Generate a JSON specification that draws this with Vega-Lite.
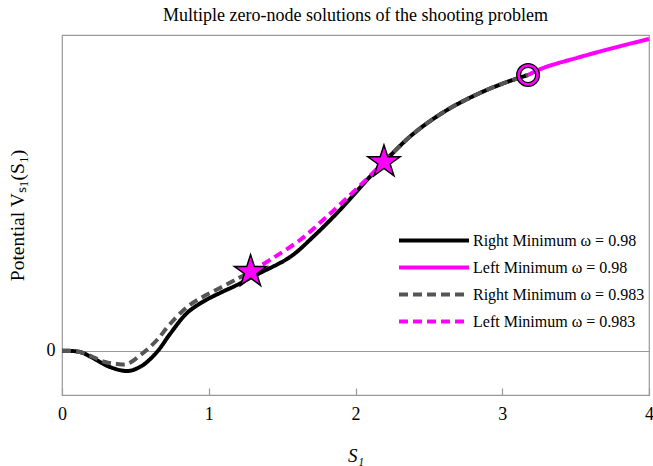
{
  "$schema": "https://vega.github.io/schema/vega-lite/v6.json",
  "width": 587,
  "height": 360,
  "autosize": {"type": "none"},
  "padding": {"left": 62, "top": 35, "right": 4, "bottom": 71},
  "config": {
    "view": {"stroke": "#999999", "strokeWidth": 1.2}
  },
  "title": {
    "text": "Multiple zero-node solutions of the shooting problem",
    "font": "Liberation Serif",
    "fontSize": 18,
    "fontWeight": "normal",
    "color": "#000000",
    "offset": 6
  },
  "layer": [
    {
      "data": {"values": [
        {"s": 0, "v": 0, "series": "Right Minimum ω = 0.98", "seg": "a"},
        {"s": 0.123, "v": -0.013, "series": "Right Minimum ω = 0.98", "seg": "a"},
        {"s": 0.211, "v": -0.073, "series": "Right Minimum ω = 0.98", "seg": "a"},
        {"s": 0.327, "v": -0.163, "series": "Right Minimum ω = 0.98", "seg": "a"},
        {"s": 0.45, "v": -0.203, "series": "Right Minimum ω = 0.98", "seg": "a"},
        {"s": 0.54, "v": -0.155, "series": "Right Minimum ω = 0.98", "seg": "a"},
        {"s": 0.6, "v": -0.085, "series": "Right Minimum ω = 0.98", "seg": "a"},
        {"s": 0.66, "v": 0.01, "series": "Right Minimum ω = 0.98", "seg": "a"},
        {"s": 0.736, "v": 0.167, "series": "Right Minimum ω = 0.98", "seg": "a"},
        {"s": 0.852, "v": 0.377, "series": "Right Minimum ω = 0.98", "seg": "a"},
        {"s": 0.961, "v": 0.49, "series": "Right Minimum ω = 0.98", "seg": "a"},
        {"s": 1.076, "v": 0.577, "series": "Right Minimum ω = 0.98", "seg": "a"},
        {"s": 1.192, "v": 0.657, "series": "Right Minimum ω = 0.98", "seg": "a"},
        {"s": 1.281, "v": 0.727, "series": "Right Minimum ω = 0.98", "seg": "a"},
        {"s": 1.349, "v": 0.777, "series": "Right Minimum ω = 0.98", "seg": "a"},
        {"s": 1.554, "v": 0.937, "series": "Right Minimum ω = 0.98", "seg": "a"},
        {"s": 1.71, "v": 1.137, "series": "Right Minimum ω = 0.98", "seg": "a"},
        {"s": 1.894, "v": 1.407, "series": "Right Minimum ω = 0.98", "seg": "a"},
        {"s": 2.078, "v": 1.707, "series": "Right Minimum ω = 0.98", "seg": "a"},
        {"s": 2.194, "v": 1.887, "series": "Right Minimum ω = 0.98", "seg": "a"},
        {"s": 2.392, "v": 2.167, "series": "Right Minimum ω = 0.98", "seg": "a"},
        {"s": 2.624, "v": 2.407, "series": "Right Minimum ω = 0.98", "seg": "a"},
        {"s": 2.848, "v": 2.577, "series": "Right Minimum ω = 0.98", "seg": "a"},
        {"s": 3.032, "v": 2.687, "series": "Right Minimum ω = 0.98", "seg": "a"},
        {"s": 3.176, "v": 2.757, "series": "Right Minimum ω = 0.98", "seg": "a"},
        {"s": 3.176, "v": 2.757, "series": "Left Minimum ω = 0.98", "seg": "b"},
        {"s": 3.278, "v": 2.827, "series": "Left Minimum ω = 0.98", "seg": "b"},
        {"s": 3.53, "v": 2.937, "series": "Left Minimum ω = 0.98", "seg": "b"},
        {"s": 3.755, "v": 3.027, "series": "Left Minimum ω = 0.98", "seg": "b"},
        {"s": 4.0, "v": 3.117, "series": "Left Minimum ω = 0.98", "seg": "b"},
        {"s": 0, "v": 0, "series": "Right Minimum ω = 0.983", "seg": "c"},
        {"s": 0.123, "v": -0.013, "series": "Right Minimum ω = 0.983", "seg": "c"},
        {"s": 0.211, "v": -0.063, "series": "Right Minimum ω = 0.983", "seg": "c"},
        {"s": 0.293, "v": -0.113, "series": "Right Minimum ω = 0.983", "seg": "c"},
        {"s": 0.375, "v": -0.133, "series": "Right Minimum ω = 0.983", "seg": "c"},
        {"s": 0.443, "v": -0.133, "series": "Right Minimum ω = 0.983", "seg": "c"},
        {"s": 0.552, "v": -0.023, "series": "Right Minimum ω = 0.983", "seg": "c"},
        {"s": 0.647, "v": 0.107, "series": "Right Minimum ω = 0.983", "seg": "c"},
        {"s": 0.736, "v": 0.267, "series": "Right Minimum ω = 0.983", "seg": "c"},
        {"s": 0.852, "v": 0.437, "series": "Right Minimum ω = 0.983", "seg": "c"},
        {"s": 0.961, "v": 0.54, "series": "Right Minimum ω = 0.983", "seg": "c"},
        {"s": 1.076, "v": 0.627, "series": "Right Minimum ω = 0.983", "seg": "c"},
        {"s": 1.192, "v": 0.717, "series": "Right Minimum ω = 0.983", "seg": "c"},
        {"s": 1.285, "v": 0.79, "series": "Right Minimum ω = 0.983", "seg": "c"},
        {"s": 2.194, "v": 1.887, "series": "Right Minimum ω = 0.983", "seg": "d"},
        {"s": 2.392, "v": 2.167, "series": "Right Minimum ω = 0.983", "seg": "d"},
        {"s": 2.624, "v": 2.407, "series": "Right Minimum ω = 0.983", "seg": "d"},
        {"s": 2.848, "v": 2.577, "series": "Right Minimum ω = 0.983", "seg": "d"},
        {"s": 3.032, "v": 2.687, "series": "Right Minimum ω = 0.983", "seg": "d"},
        {"s": 3.176, "v": 2.757, "series": "Right Minimum ω = 0.983", "seg": "d"},
        {"s": 1.285, "v": 0.79, "series": "Left Minimum ω = 0.983", "seg": "e"},
        {"s": 1.438, "v": 0.927, "series": "Left Minimum ω = 0.983", "seg": "e"},
        {"s": 1.622, "v": 1.107, "series": "Left Minimum ω = 0.983", "seg": "e"},
        {"s": 1.779, "v": 1.307, "series": "Left Minimum ω = 0.983", "seg": "e"},
        {"s": 1.942, "v": 1.527, "series": "Left Minimum ω = 0.983", "seg": "e"},
        {"s": 2.119, "v": 1.777, "series": "Left Minimum ω = 0.983", "seg": "e"},
        {"s": 2.194, "v": 1.887, "series": "Left Minimum ω = 0.983", "seg": "e"}
      ]},
      "mark": {"type": "line", "strokeWidth": 4, "interpolate": "catmull-rom"},
      "encoding": {
        "x": {
          "field": "s", "type": "quantitative",
          "scale": {"domain": [0, 4], "nice": false, "zero": false},
          "axis": {
            "values": [0, 1, 2, 3, 4],
            "format": "d",
            "domain": false,
            "grid": false,
            "ticks": true,
            "tickSize": -7,
            "tickColor": "#999999",
            "tickWidth": 1.2,
            "labelFontSize": 18,
            "labelFont": "Liberation Serif",
            "labelColor": "#000000",
            "labelPadding": 17,
            "labelFlush": false,
            "title": "S₁",
            "titleFont": "Liberation Serif",
            "titleFontSize": 19,
            "titleFontWeight": "normal",
            "titleFontStyle": "italic",
            "titleColor": "#000000",
            "titlePadding": 23
          }
        },
        "y": {
          "field": "v", "type": "quantitative",
          "scale": {"domain": [-0.443, 3.157], "nice": false, "zero": false},
          "axis": {
            "values": [0],
            "format": "d",
            "domain": false,
            "ticks": false,
            "grid": true,
            "gridColor": "#999999",
            "gridWidth": 1.2,
            "gridOpacity": 1,
            "labelFontSize": 18,
            "labelFont": "Liberation Serif",
            "labelColor": "#000000",
            "labelPadding": 7,
            "title": "Potential Vₛ₁(S₁)",
            "titleFont": "Liberation Serif",
            "titleFontSize": 19.5,
            "titleFontWeight": "normal",
            "titleColor": "#000000",
            "titlePadding": 19
          }
        },
        "detail": {"field": "seg"},
        "color": {
          "field": "series", "type": "nominal",
          "scale": {
            "domain": ["Right Minimum ω = 0.98", "Left Minimum ω = 0.98", "Right Minimum ω = 0.983", "Left Minimum ω = 0.983"],
            "range": ["#000000", "#ff00ff", "#555555", "#ff00ff"]
          },
          "legend": {
            "title": null,
            "orient": "none",
            "legendX": 335,
            "legendY": 198,
            "symbolType": "stroke",
            "symbolSize": 4900,
            "symbolStrokeWidth": 4,
            "clipHeight": 15,
            "labelFont": "Liberation Serif",
            "labelFontSize": 16,
            "labelColor": "#000000",
            "labelOffset": 2,
            "rowPadding": 10,
            "labelLimit": 300
          }
        },
        "strokeDash": {
          "field": "series", "type": "nominal",
          "scale": {
            "domain": ["Right Minimum ω = 0.98", "Left Minimum ω = 0.98", "Right Minimum ω = 0.983", "Left Minimum ω = 0.983"],
            "range": [[1, 0], [1, 0], [9, 5], [9, 5]]
          },
          "legend": {
            "title": null,
            "orient": "none",
            "legendX": 335,
            "legendY": 198,
            "symbolType": "stroke",
            "symbolSize": 4900,
            "symbolStrokeWidth": 4,
            "clipHeight": 15,
            "labelFont": "Liberation Serif",
            "labelFontSize": 16,
            "labelColor": "#000000",
            "labelOffset": 2,
            "rowPadding": 10,
            "labelLimit": 300
          }
        }
      }
    },
    {
      "data": {"values": [
        {"s": 1.285, "v": 0.79},
        {"s": 2.194, "v": 1.887}
      ]},
      "mark": {"type": "point", "shape": "M0,-1L0.2245,-0.309L0.951,-0.309L0.3633,0.118L0.5878,0.809L0,0.382L-0.5878,0.809L-0.3633,0.118L-0.951,-0.309L-0.2245,-0.309Z", "filled": true, "fill": "#ff00ff", "stroke": "#000000", "strokeWidth": 1.5, "size": 1156, "opacity": 1},
      "encoding": {
        "x": {"field": "s", "type": "quantitative"},
        "y": {"field": "v", "type": "quantitative"}
      }
    },
    {
      "data": {"values": [{"s": 3.176, "v": 2.757}]},
      "mark": {"type": "point", "shape": "circle", "filled": false, "stroke": "#000000", "strokeWidth": 5, "size": 361, "opacity": 1},
      "encoding": {
        "x": {"field": "s", "type": "quantitative"},
        "y": {"field": "v", "type": "quantitative"}
      }
    },
    {
      "data": {"values": [{"s": 3.176, "v": 2.757}]},
      "mark": {"type": "point", "shape": "circle", "filled": false, "stroke": "#ff00ff", "strokeWidth": 2.5, "size": 361, "opacity": 1},
      "encoding": {
        "x": {"field": "s", "type": "quantitative"},
        "y": {"field": "v", "type": "quantitative"}
      }
    }
  ]
}
